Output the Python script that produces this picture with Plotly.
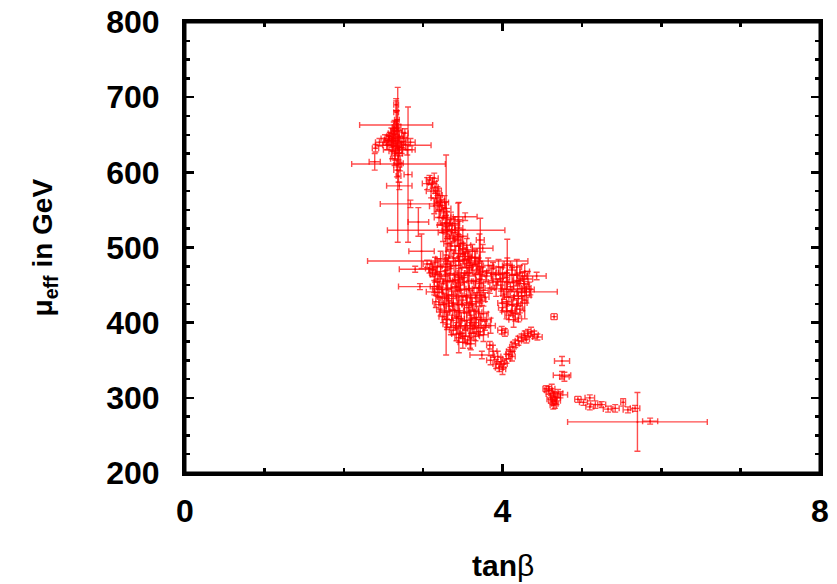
import plotly.graph_objects as go

# Each entry: (tan beta, mu_eff [GeV], error in tan beta, error in mu_eff)
top_cluster = [
    (2.62, 650, 0.05, 8), (2.65, 645, 0.04, 10), (2.60, 640, 0.06, 7), (2.68, 638, 0.05, 9),
    (2.63, 655, 0.04, 12), (2.70, 648, 0.06, 8), (2.57, 642, 0.05, 6), (2.66, 632, 0.04, 10),
    (2.72, 640, 0.05, 7), (2.64, 660, 0.03, 9), (2.58, 648, 0.04, 5), (2.75, 645, 0.05, 8),
    (2.61, 628, 0.04, 10), (2.69, 625, 0.05, 8), (2.55, 636, 0.06, 6), (2.67, 670, 0.03, 12),
    (2.66, 680, 0.03, 15), (2.64, 618, 0.05, 9), (2.71, 612, 0.04, 10), (2.67, 603, 0.04, 9),
    (2.69, 595, 0.03, 8), (2.80, 630, 0.06, 7), (2.52, 645, 0.05, 5), (2.77, 652, 0.04, 6),
    (2.62, 635, 0.08, 6), (2.84, 640, 0.06, 5), (2.66, 690, 0.03, 8), (2.40, 632, 0.04, 5),
    (2.45, 640, 0.05, 5), (2.56, 643, 0.05, 6), (2.67, 660, 0.05, 10), (2.63, 645, 0.06, 10),
    (2.69, 655, 0.05, 9), (2.60, 652, 0.04, 7), (2.73, 633, 0.05, 8), (2.65, 625, 0.05, 9),
]

large_errors = [
    (2.68, 610, 0.05, 103), (2.81, 597, 0.05, 90), (2.66, 663, 0.46, 5), (2.75, 636, 0.35, 5),
    (2.70, 630, 0.20, 4), (2.39, 614, 0.07, 11), (2.69, 611, 0.59, 4), (2.70, 582, 0.16, 5),
    (2.84, 558, 0.38, 5), (2.94, 534, 0.13, 19), (2.98, 495, 0.16, 23), (3.29, 523, 0.74, 5),
    (3.31, 482, 1.01, 4), (2.90, 471, 0.20, 4), (2.96, 448, 0.27, 4), (3.14, 441, 0.10, 4),
    (3.29, 490, 0.04, 133), (3.45, 460, 0.05, 100), (3.59, 400, 0.04, 34), (3.71, 470, 0.04, 48),
    (3.53, 541, 0.15, 5), (3.44, 537, 0.06, 22), (3.72, 510, 0.05, 29), (3.75, 499, 0.13, 5),
    (4.06, 478, 0.04, 33), (4.35, 441, 0.34, 4), (4.43, 462, 0.12, 5), (4.28, 430, 0.04, 25),
    (3.74, 357, 0.15, 5),
]

stream = [
    (3.08, 590, 0.04, 6), (3.12, 586, 0.05, 7), (3.15, 580, 0.04, 8), (3.18, 575, 0.05, 6),
    (3.20, 570, 0.04, 9), (3.22, 562, 0.05, 7), (3.24, 556, 0.04, 8), (3.21, 550, 0.05, 10),
    (3.26, 546, 0.04, 7), (3.30, 540, 0.05, 8), (3.28, 533, 0.06, 9), (3.33, 530, 0.04, 7),
    (3.36, 524, 0.05, 8), (3.40, 520, 0.04, 10), (3.38, 514, 0.05, 6), (3.44, 510, 0.05, 8),
    (3.47, 505, 0.04, 9), (3.50, 498, 0.05, 7), (3.53, 492, 0.06, 8), (3.57, 488, 0.04, 9),
    (3.60, 480, 0.05, 7), (3.25, 520, 0.06, 12), (3.31, 505, 0.05, 10), (3.35, 497, 0.06, 9),
    (3.18, 560, 0.04, 12), (3.08, 472, 0.05, 6), (3.12, 466, 0.04, 5), (3.05, 478, 0.05, 5),
    (3.05, 585, 0.06, 8), (3.14, 592, 0.05, 7), (3.10, 575, 0.06, 9), (3.16, 566, 0.06, 10),
    (3.27, 560, 0.05, 9), (3.14, 555, 0.06, 10), (3.29, 552, 0.06, 9), (3.20, 540, 0.06, 10),
    (3.35, 538, 0.05, 9), (3.24, 530, 0.06, 10), (3.40, 532, 0.06, 9), (3.30, 522, 0.06, 10),
    (3.45, 526, 0.05, 9), (3.34, 512, 0.06, 10), (3.50, 515, 0.06, 9), (3.40, 502, 0.06, 10),
    (3.55, 503, 0.05, 9), (3.45, 492, 0.06, 10), (3.62, 495, 0.06, 9), (3.50, 488, 0.06, 10),
    (3.66, 486, 0.05, 9),
]

main_cluster = [
    (3.15, 480, 0.05, 7), (3.30, 478, 0.04, 8), (3.45, 482, 0.06, 6), (3.58, 476, 0.05, 9), (3.70, 479, 0.04, 7),
    (3.12, 470, 0.05, 8), (3.22, 468, 0.06, 6), (3.35, 472, 0.04, 9), (3.48, 466, 0.05, 7), (3.62, 470, 0.06, 8),
    (3.75, 468, 0.05, 6), (3.88, 472, 0.04, 8), (4.00, 466, 0.05, 7), (4.12, 470, 0.06, 6),
    (3.18, 458, 0.04, 9), (3.28, 462, 0.05, 7), (3.40, 456, 0.06, 8), (3.52, 460, 0.04, 6), (3.66, 455, 0.05, 9),
    (3.80, 462, 0.06, 7), (3.92, 458, 0.05, 8), (4.05, 460, 0.04, 6), (4.18, 456, 0.05, 7), (4.25, 462, 0.06, 5),
    (3.14, 448, 0.05, 8), (3.25, 452, 0.04, 6), (3.36, 446, 0.06, 9), (3.47, 450, 0.05, 7), (3.58, 445, 0.04, 8),
    (3.71, 452, 0.05, 6), (3.84, 446, 0.06, 7), (3.98, 450, 0.05, 8), (4.10, 448, 0.04, 6), (4.22, 452, 0.05, 7),
    (4.30, 446, 0.06, 5),
    (3.20, 440, 0.05, 7), (3.32, 437, 0.06, 8), (3.43, 442, 0.04, 6), (3.55, 436, 0.05, 9), (3.68, 440, 0.06, 7),
    (3.78, 434, 0.05, 6), (4.02, 438, 0.04, 7), (4.15, 436, 0.05, 6), (4.24, 440, 0.06, 5),
    (3.16, 428, 0.04, 8), (3.27, 432, 0.05, 7), (3.38, 426, 0.06, 9), (3.50, 430, 0.05, 6), (3.62, 425, 0.04, 8),
    (3.74, 430, 0.05, 7), (4.05, 428, 0.06, 6), (4.18, 425, 0.05, 7),
    (3.22, 418, 0.05, 9), (3.33, 422, 0.04, 7), (3.45, 416, 0.06, 8), (3.57, 420, 0.05, 6), (3.70, 414, 0.04, 7),
    (4.00, 420, 0.05, 6), (4.12, 416, 0.06, 7), (4.22, 418, 0.05, 5),
    (3.25, 408, 0.05, 8), (3.37, 410, 0.06, 7), (3.48, 405, 0.04, 9), (3.60, 410, 0.05, 6), (3.72, 404, 0.06, 8),
    (4.08, 410, 0.05, 6), (4.20, 406, 0.04, 5),
    (3.30, 398, 0.05, 7), (3.42, 400, 0.04, 8), (3.53, 396, 0.06, 6), (3.65, 400, 0.05, 7), (3.78, 396, 0.05, 6),
    (3.38, 390, 0.05, 6), (3.50, 386, 0.04, 7), (3.62, 392, 0.06, 6), (3.72, 388, 0.05, 5), (3.99, 390, 0.05, 5),
    (3.45, 380, 0.05, 6), (3.56, 377, 0.04, 5), (3.66, 382, 0.05, 6),
]

main_fill = [
    (3.22, 485, 0.06, 10), (3.38, 486, 0.06, 10), (3.52, 484, 0.06, 10), (3.65, 487, 0.06, 10),
    (3.18, 475, 0.06, 10), (3.28, 474, 0.06, 10), (3.41, 476, 0.06, 10), (3.55, 473, 0.06, 10),
    (3.68, 475, 0.06, 10), (3.82, 476, 0.06, 10), (3.95, 474, 0.06, 10), (4.06, 476, 0.06, 10),
    (4.18, 474, 0.06, 10), (4.28, 468, 0.06, 10),
    (3.15, 464, 0.06, 10), (3.34, 465, 0.06, 10), (3.45, 462, 0.06, 10), (3.58, 466, 0.06, 10),
    (3.72, 464, 0.06, 10), (3.86, 466, 0.06, 10), (3.97, 464, 0.06, 10), (4.12, 463, 0.06, 10),
    (4.22, 466, 0.06, 10), (4.32, 458, 0.06, 10),
    (3.20, 454, 0.06, 10), (3.31, 456, 0.06, 10), (3.44, 454, 0.06, 10), (3.57, 455, 0.06, 10),
    (3.73, 457, 0.06, 10), (3.88, 454, 0.06, 10), (4.00, 455, 0.06, 10), (4.14, 454, 0.06, 10),
    (4.27, 452, 0.06, 10),
    (3.18, 445, 0.06, 10), (3.30, 444, 0.06, 10), (3.41, 447, 0.06, 10), (3.52, 444, 0.06, 10),
    (3.64, 446, 0.06, 10), (3.76, 443, 0.06, 10), (3.92, 445, 0.06, 10), (4.05, 444, 0.06, 10),
    (4.19, 445, 0.06, 10), (4.34, 444, 0.06, 10),
    (3.24, 434, 0.06, 10), (3.36, 432, 0.06, 10), (3.48, 435, 0.06, 10), (3.60, 433, 0.06, 10),
    (3.72, 436, 0.06, 10), (4.08, 434, 0.06, 10), (4.20, 432, 0.06, 10), (4.30, 436, 0.06, 10),
    (3.20, 424, 0.06, 10), (3.32, 426, 0.06, 10), (3.43, 424, 0.06, 10), (3.55, 425, 0.06, 10),
    (3.67, 428, 0.06, 10), (4.00, 426, 0.06, 10), (4.12, 424, 0.06, 10), (4.25, 426, 0.06, 10),
    (3.27, 414, 0.06, 10), (3.40, 416, 0.06, 10), (3.52, 413, 0.06, 10), (3.64, 415, 0.06, 10),
    (3.76, 412, 0.06, 10), (4.05, 415, 0.06, 10), (4.16, 412, 0.06, 10),
    (3.30, 404, 0.06, 10), (3.42, 406, 0.06, 10), (3.55, 403, 0.06, 10), (3.67, 406, 0.06, 10),
    (3.80, 404, 0.06, 10), (4.14, 404, 0.06, 10),
    (3.35, 394, 0.06, 10), (3.47, 395, 0.06, 10), (3.60, 396, 0.06, 10), (3.70, 394, 0.06, 10),
    (3.85, 396, 0.06, 10),
    (3.42, 385, 0.06, 9), (3.53, 382, 0.06, 9), (3.64, 386, 0.06, 9), (3.76, 384, 0.06, 9),
    (3.50, 374, 0.06, 8), (3.60, 372, 0.06, 8),
]

hook = [
    (3.92, 345, 0.04, 6), (3.96, 340, 0.05, 5), (4.00, 338, 0.04, 7), (3.98, 348, 0.05, 6),
    (4.02, 345, 0.04, 5), (4.05, 352, 0.05, 6), (3.94, 355, 0.04, 7), (4.08, 358, 0.04, 6),
    (4.10, 362, 0.05, 5), (4.13, 368, 0.04, 6), (4.16, 372, 0.05, 5), (4.20, 376, 0.04, 6),
    (4.24, 380, 0.05, 5), (4.28, 383, 0.04, 6), (4.32, 386, 0.05, 5), (4.36, 388, 0.04, 6),
    (4.40, 384, 0.05, 5), (4.44, 381, 0.06, 4), (4.30, 378, 0.04, 5), (4.12, 355, 0.04, 6),
    (3.88, 362, 0.05, 8), (3.85, 350, 0.05, 6), (3.84, 370, 0.04, 5), (4.03, 387, 0.04, 5),
]

tail = [
    (4.65, 408, 0.04, 4), (4.75, 349, 0.095, 6), (4.75, 330, 0.11, 5), (4.78, 328, 0.06, 6),
    (4.58, 310, 0.05, 5), (4.62, 312, 0.04, 6), (4.60, 305, 0.05, 5), (4.65, 302, 0.04, 6),
    (4.63, 296, 0.05, 5), (4.66, 292, 0.04, 6), (4.61, 298, 0.05, 5), (4.67, 300, 0.06, 7),
    (4.64, 290, 0.04, 5), (4.70, 306, 0.06, 5), (4.55, 312, 0.04, 4), (4.68, 296, 0.05, 5),
    (4.73, 304, 0.09, 4),
    (4.95, 298, 0.04, 4), (5.02, 294, 0.05, 4), (5.10, 300, 0.06, 4), (5.10, 288, 0.05, 4),
    (5.17, 291, 0.06, 5), (5.25, 291, 0.05, 4), (5.33, 285, 0.06, 4), (5.42, 286, 0.05, 5),
    (5.52, 294, 0.03, 5), (5.58, 284, 0.06, 4), (5.67, 286, 0.06, 4),
    (5.70, 268, 0.88, 39), (5.86, 269, 0.095, 4),
]

points = top_cluster + large_errors + stream + main_cluster + main_fill + hook + tail
tanb = [p[0] for p in points]
mu_eff = [p[1] for p in points]
tanb_err = [p[2] for p in points]
mu_err = [p[3] for p in points]

bar_color = "rgba(255,0,0,0.7)"
fig = go.Figure(go.Scatter(
    x=tanb, y=mu_eff, mode="markers",
    marker=dict(size=2, color=bar_color),
    error_x=dict(type="data", array=tanb_err, color=bar_color, thickness=1.4, width=3),
    error_y=dict(type="data", array=mu_err, color=bar_color, thickness=1.4, width=3),
    showlegend=False, hoverinfo="skip",
))

font_tick = dict(family="Liberation Sans, Arial, sans-serif", size=32, color="black", weight="bold")
axis_common = dict(
    ticks="inside", ticklen=9, tickwidth=2.5, tickcolor="black",
    showline=True, linewidth=3, linecolor="black", mirror="allticks",
    showgrid=False, zeroline=False, tickfont=font_tick, automargin=False,
)
fig.update_xaxes(range=[0, 8], tickvals=[0, 4, 8], ticklabelstandoff=8,
                 minor=dict(dtick=1, ticks="inside", ticklen=5, tickwidth=2.5, tickcolor="black"),
                 **axis_common)
fig.update_yaxes(range=[200, 800], tickvals=[200, 300, 400, 500, 600, 700, 800], ticklabelstandoff=16,
                 minor=dict(dtick=25, ticks="inside", ticklen=5, tickwidth=2.5, tickcolor="black"),
                 **axis_common)

fig.update_layout(
    width=837, height=584,
    margin=dict(l=185, r=17, t=22, b=111),
    plot_bgcolor="white", paper_bgcolor="white",
    hovermode=False, dragmode=False,
    shapes=[dict(type="rect", xref="paper", yref="paper", x0=0, x1=1, y0=0, y1=1,
                 line=dict(color="black", width=3), layer="above")],
    annotations=[
        dict(text="<b>tan</b>β", xref="paper", yref="paper", x=0.5, y=-0.204,
             xanchor="center", yanchor="middle", showarrow=False,
             font=dict(family="Liberation Sans, Arial, sans-serif", size=30, color="black")),
        dict(text="<b>μ<sub>eff</sub> in GeV</b>", xref="paper", yref="paper", x=-0.2205, y=0.5,
             xanchor="center", yanchor="middle", textangle=-90, showarrow=False,
             font=dict(family="Liberation Sans, Arial, sans-serif", size=28, color="black")),
    ],
)

# Remove the default page margin so the figure sits at the window's top-left corner.
fig.write_html("out.html", config={"staticPlot": True, "displayModeBar": False},
               post_script="document.body.style.margin='0px';document.body.style.overflow='hidden';")
